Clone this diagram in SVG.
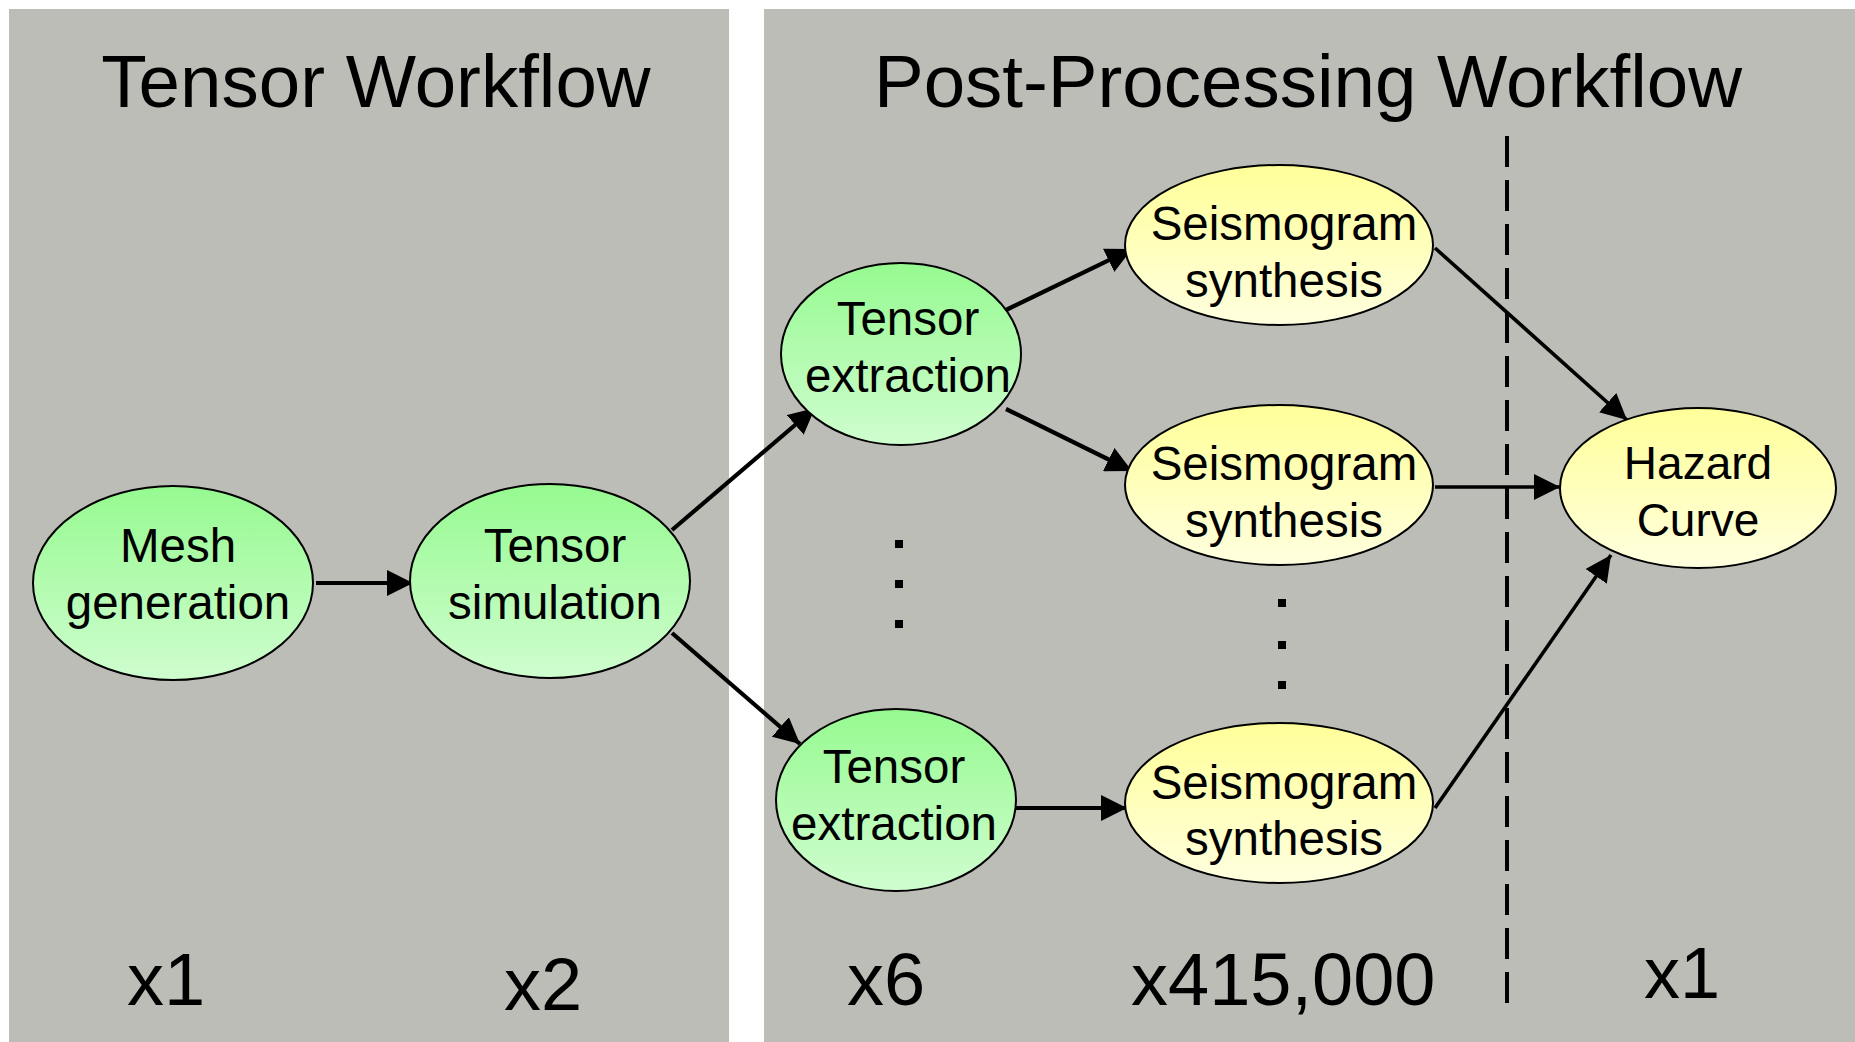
<svg xmlns="http://www.w3.org/2000/svg" width="1855" height="1042" viewBox="0 0 1855 1042">
  <defs>
    <linearGradient id="gGreen" x1="0" y1="0" x2="0" y2="1">
      <stop offset="0" stop-color="#96FA90"/>
      <stop offset="1" stop-color="#CFFDCF"/>
    </linearGradient>
    <linearGradient id="gYellow" x1="0" y1="0" x2="0" y2="1">
      <stop offset="0" stop-color="#FFFF99"/>
      <stop offset="1" stop-color="#FFFFDF"/>
    </linearGradient>
    <marker id="arrow" viewBox="0 0 24 24" refX="24" refY="12" markerWidth="26" markerHeight="26" markerUnits="userSpaceOnUse" orient="auto">
      <path d="M0,0 L24,12 L0,24 z" fill="#000"/>
    </marker>
    <style>
      .panel { fill: #BBBDB6; }
      .title { font-family: "Liberation Sans", Arial, sans-serif; font-size: 74.5px; fill: #000; text-anchor: middle; }
      .count { font-family: "Liberation Sans", Arial, sans-serif; font-size: 74px; fill: #000; }
      .lbl { font-family: "Liberation Sans", Arial, sans-serif; font-size: 47.5px; fill: #000; text-anchor: middle; }
      .green { fill: url(#gGreen); stroke: #000; stroke-width: 2; }
      .yellow { fill: url(#gYellow); stroke: #000; stroke-width: 2; }
      .edge { stroke: #000; stroke-width: 4.2; fill: none; marker-end: url(#arrow); }
      .dot { fill: #000; }
    </style>
  </defs>

  <rect width="1855" height="1042" fill="#FFFFFF"/>

  <!-- workflow panels -->
  <rect class="panel" x="9" y="9" width="720" height="1033"/>
  <rect class="panel" x="764" y="9" width="1091" height="1033"/>

  <text class="title" x="376" y="107">Tensor Workflow</text>
  <text class="title" x="1308" y="107">Post-Processing Workflow</text>

  <!-- stage divider -->
  <line x1="1507" y1="136" x2="1507" y2="1005" stroke="#000" stroke-width="4" stroke-dasharray="31 13"/>

  <!-- connectors -->
  <g id="connectors">
    <line class="edge" x1="316" y1="583" x2="413" y2="583"/>
    <line class="edge" x1="672" y1="530" x2="815" y2="408"/>
    <line class="edge" x1="672" y1="633" x2="800" y2="744"/>
    <line class="edge" x1="1006" y1="310" x2="1132" y2="249"/>
    <line class="edge" x1="1006" y1="409" x2="1132" y2="471"/>
    <line class="edge" x1="1015" y1="808" x2="1127" y2="808"/>
    <line class="edge" x1="1435" y1="248" x2="1627" y2="420" style="stroke-width:3.6"/>
    <line class="edge" x1="1435" y1="487" x2="1560" y2="487" style="stroke-width:3.6"/>
    <line class="edge" x1="1435" y1="808" x2="1611" y2="555" style="stroke-width:3.6"/>
  </g>

  <!-- nodes -->
  <g id="mesh-generation">
    <ellipse class="green" cx="173" cy="583" rx="140" ry="97"/>
    <text class="lbl" x="178" y="562">Mesh</text>
    <text class="lbl" x="178" y="619">generation</text>
  </g>
  <g id="tensor-simulation">
    <ellipse class="green" cx="550" cy="581" rx="140" ry="97"/>
    <text class="lbl" x="555" y="562">Tensor</text>
    <text class="lbl" x="555" y="619">simulation</text>
  </g>
  <g id="tensor-extraction-1">
    <ellipse class="green" cx="901" cy="354" rx="120" ry="91"/>
    <text class="lbl" x="908" y="335">Tensor</text>
    <text class="lbl" x="908" y="392">extraction</text>
  </g>
  <g id="tensor-extraction-2">
    <ellipse class="green" cx="896" cy="800" rx="120" ry="91"/>
    <text class="lbl" x="894" y="783">Tensor</text>
    <text class="lbl" x="894" y="840">extraction</text>
  </g>
  <g id="seismogram-synthesis-1">
    <ellipse class="yellow" cx="1279" cy="245" rx="154" ry="80"/>
    <text class="lbl" x="1284" y="240">Seismogram</text>
    <text class="lbl" x="1284" y="297">synthesis</text>
  </g>
  <g id="seismogram-synthesis-2">
    <ellipse class="yellow" cx="1279" cy="485" rx="154" ry="80"/>
    <text class="lbl" x="1284" y="480">Seismogram</text>
    <text class="lbl" x="1284" y="537">synthesis</text>
  </g>
  <g id="seismogram-synthesis-3">
    <ellipse class="yellow" cx="1279" cy="803" rx="154" ry="80"/>
    <text class="lbl" x="1284" y="799">Seismogram</text>
    <text class="lbl" x="1284" y="855">synthesis</text>
  </g>
  <g id="hazard-curve">
    <ellipse class="yellow" cx="1698" cy="488" rx="138" ry="80"/>
    <text class="lbl" x="1698" y="479" style="font-size:46px">Hazard</text>
    <text class="lbl" x="1698" y="536" style="font-size:46px">Curve</text>
  </g>

  <!-- elision dots -->
  <rect class="dot" x="895" y="540" width="8" height="8"/>
  <rect class="dot" x="895" y="580" width="8" height="8"/>
  <rect class="dot" x="895" y="620" width="8" height="8"/>
  <rect class="dot" x="1278" y="599" width="8" height="8"/>
  <rect class="dot" x="1278" y="641" width="8" height="8"/>
  <rect class="dot" x="1278" y="681" width="8" height="8"/>

  <!-- instance counts -->
  <text class="count" x="127" y="1005">x1</text>
  <text class="count" x="504" y="1010">x2</text>
  <text class="count" x="847" y="1005">x6</text>
  <text class="count" x="1131" y="1005">x415,000</text>
  <text class="count" x="1644" y="998" style="font-size:72px">x1</text>
</svg>
